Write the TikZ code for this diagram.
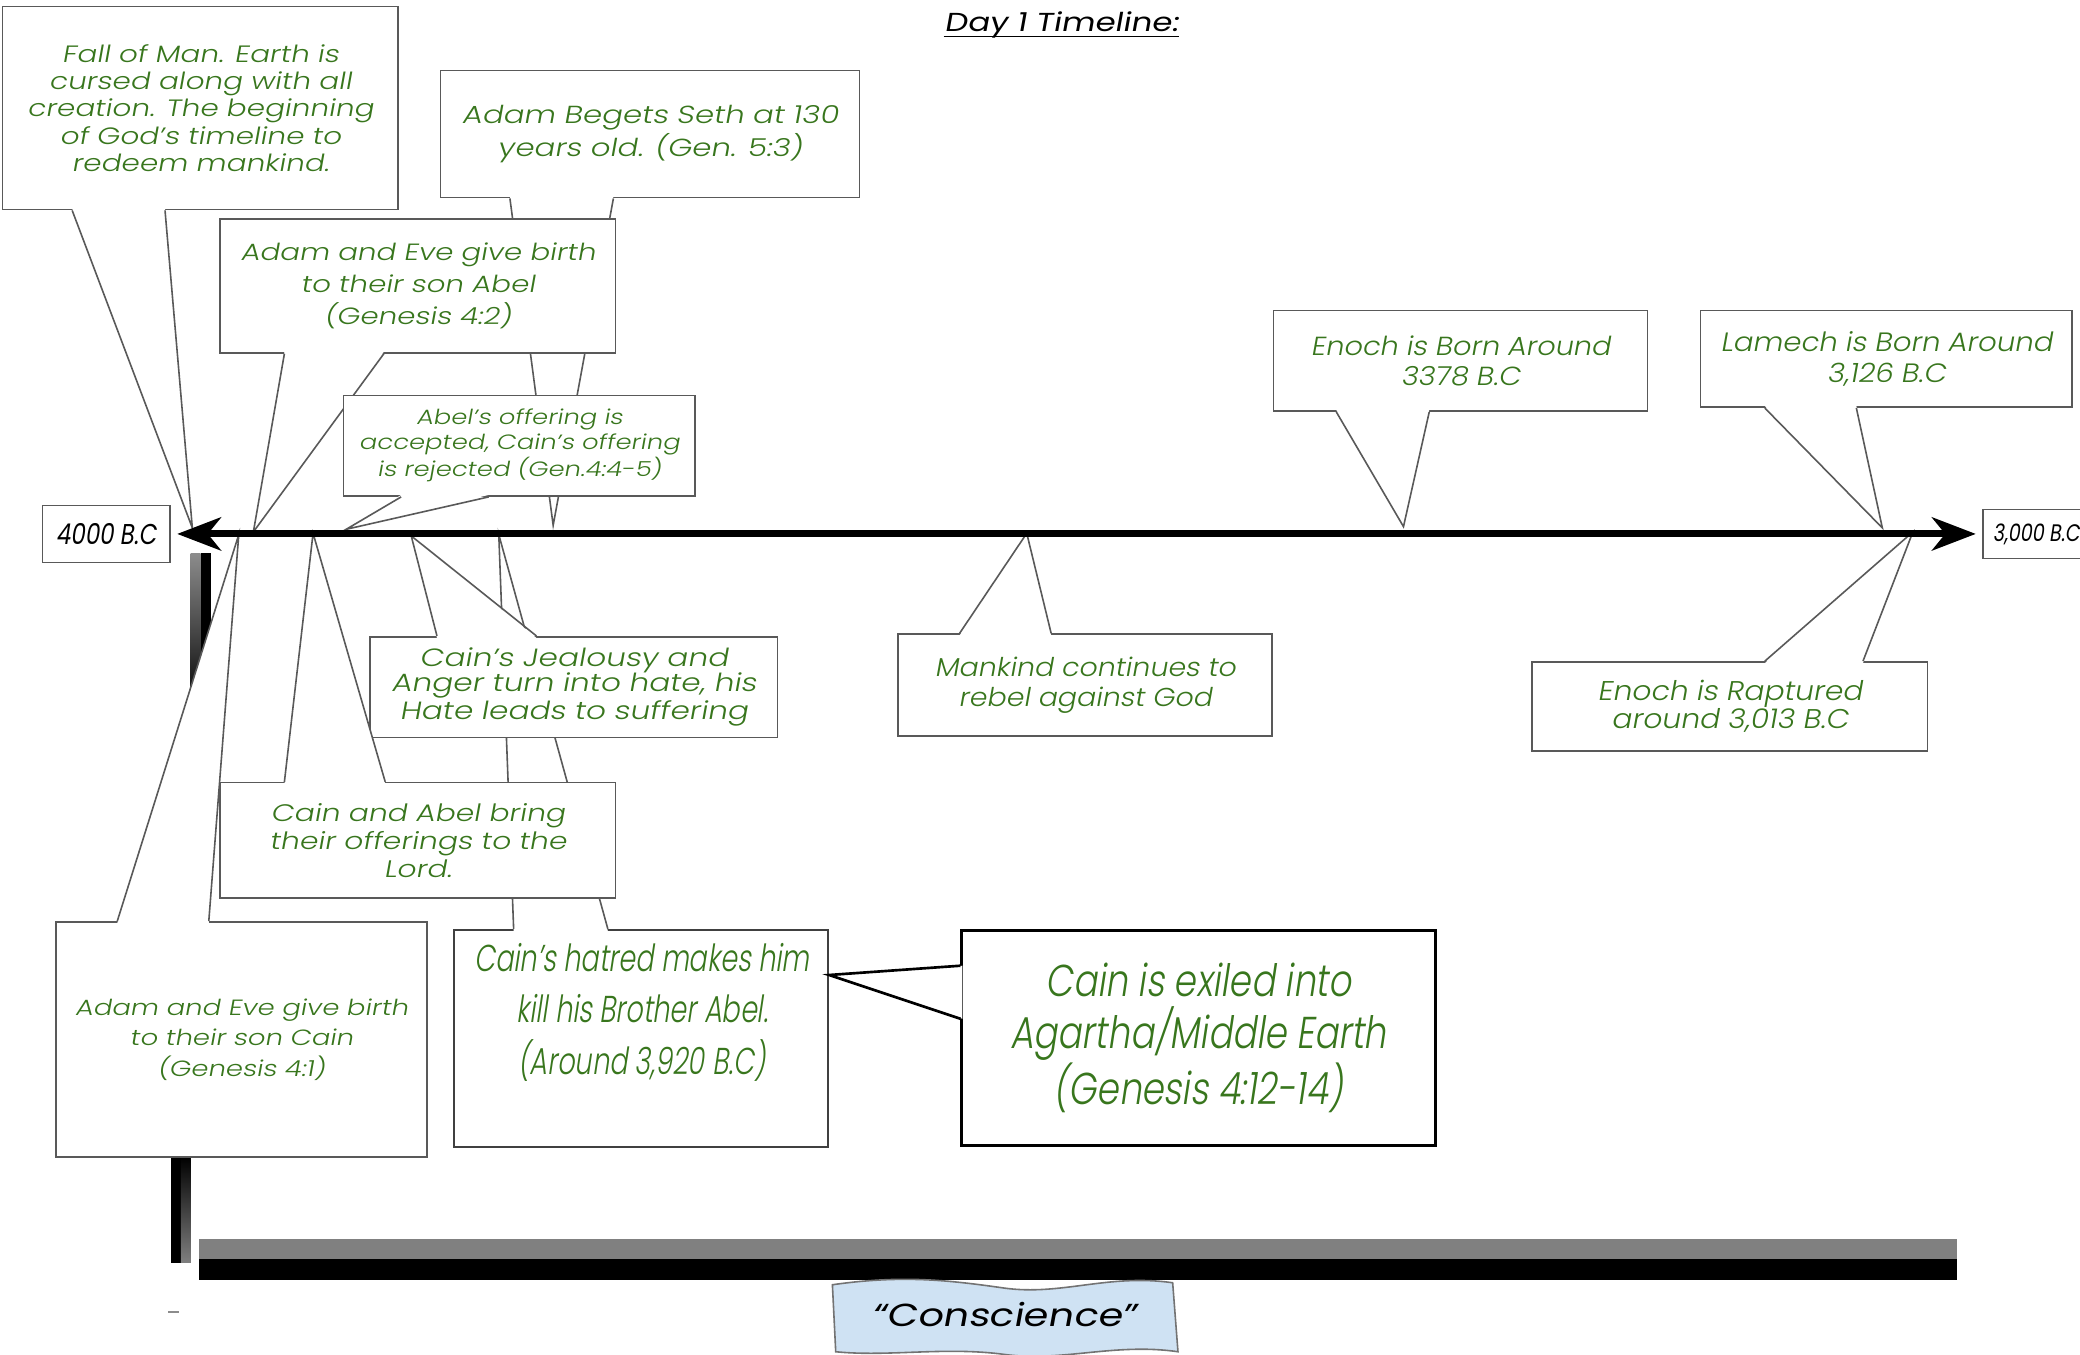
\documentclass[tikz,border=0pt]{standalone}
\usepackage{fontspec}
\usetikzlibrary{arrows.meta,calc}
\newcommand\mkfonts[1]{%
  \newfontfamily\wideF{#1}[FakeSlant=0.18,FakeStretch=1.25]%
  \newfontfamily\medF{#1}[FakeSlant=0.18,FakeStretch=1.1]%
  \newfontfamily\condP{#1}[FakeSlant=0.15,FakeStretch=0.725]%
  \newfontfamily\condQ{#1}[FakeSlant=0.15,FakeStretch=0.8]}
\IfFontExistsTF{Poppins Light}{\mkfonts{Poppins Light}}{\mkfonts{Poppins}}
\newfontfamily\titleF{Poppins}[FakeSlant=0.18,FakeStretch=1.25]
\newfontfamily\condF{Poppins}[FakeSlant=0.15,FakeStretch=0.8]
\definecolor{tgreen}{HTML}{38761D}
\definecolor{boxgray}{HTML}{595959}
\definecolor{cblue}{HTML}{CFE2F3}
\tikzset{
  box/.style={draw=boxgray, line width=0.6pt, fill=white, inner sep=0pt, align=center, text=tgreen},
  lbl/.style={draw=boxgray, line width=0.6pt, fill=white, inner sep=0pt, align=center, text=black},
  ptr/.style={draw=boxgray, line width=0.6pt, line join=miter},
  qptr/.style={draw=black, line width=1pt, line join=miter},
  axis/.style={line width=2.6pt, {Stealth[length=16.5pt,width=12.5pt,inset=5pt]}-{Stealth[length=16.5pt,width=12.5pt,inset=5pt]}},
}
\newcommand\pointer[5][ptr]{%
  \fill[white] ($(#2)+#5$) -- (#4) -- ($(#3)+#5$) -- cycle;
  \draw[#1] (#2) -- (#4) -- (#3);}
\begin{document}
\begin{tikzpicture}[x=0.5pt,y=-0.5pt]
\useasboundingbox (0,0) rectangle (1568,1021);
\fill[white] (0,0) rectangle (1568,1021);

% bars
\shade[top color=black!45, bottom color=black] (143.7,417) rectangle (151.3,535);
\fill[black] (151.3,417) rectangle (159,535);
\fill[black] (128.7,872) rectangle (136.3,952);
\shade[top color=black, bottom color=black!50] (136.3,872) rectangle (143.8,952);
\fill[black!50] (150,934) rectangle (1475,949);
\fill[black] (150,949) rectangle (1475,965);
\draw[black!45, line width=1pt] (127,989) -- (135,989);

% Conscience banner
\draw[draw=black!55, fill=cblue, line width=0.6pt] (627.5,968.5) .. controls (680,961) and (715,965) .. (757,971) .. controls (800,977) and (835,960) .. (884,967) -- (888,1019) .. controls (840,1012) and (800,1027) .. (757,1021) .. controls (712,1015) and (670,1023) .. (630,1019) -- cycle;
\node[inner sep=0pt, text=black, font=\titleF\fontsize{12}{14}\selectfont] (CS) at (757,991) {“Conscience”};

% Seth
\node[box, minimum width=158pt, minimum height=48pt, font=\wideF\fontsize{9.3}{11}\selectfont] (B) at (490,101) {Adam Begets Seth at 130\\years old. (Gen. 5:3)};
\coordinate (B1) at ($(B.south west)+(53,0)$);
\coordinate (B2) at ($(B.south west)+(131,0)$);
\coordinate (Bt) at (417,396);
\pointer{B1}{B2}{Bt}{(0,-1.5)}

% Fall of man
\node[box, minimum width=149pt, minimum height=76.5pt, font=\wideF\fontsize{8.9}{10.35}\selectfont] (A) at (151,81.5) {Fall of Man. Earth is\\cursed along with all\\creation. The beginning\\of God’s timeline to\\redeem mankind.};
\coordinate (A1) at ($(A.south west)+(53,0)$);
\coordinate (A2) at ($(A.south west)+(123,0)$);
\coordinate (At) at (145,398);
\pointer{A1}{A2}{At}{(0,-1.5)}

% Abel birth
\node[box, minimum width=149pt, minimum height=50.5pt, font=\wideF\fontsize{8.85}{12}\selectfont] (C) at (315,215.5) {Adam and Eve give birth\\to their son Abel\\(Genesis 4:2)};
\coordinate (C1) at ($(C.south west)+(49,0)$);
\coordinate (C2) at ($(C.south west)+(124,0)$);
\coordinate (Ct) at (191,401);
\pointer{C1}{C2}{Ct}{(0,-1.5)}

% Offerings accepted
\node[box, minimum width=132.5pt, minimum height=38pt, font=\wideF\fontsize{7.8}{9.25}\selectfont] (D) at (391.5,336) {Abel’s offering is\\accepted, Cain’s offering\\is rejected (Gen.4:4-5)};
\coordinate (D1) at ($(D.south west)+(44,0)$);
\coordinate (D2) at ($(D.south west)+(110,0)$);
\coordinate (Dt) at (261,399);
\pointer{D1}{D2}{Dt}{(0,-1.5)}

% Cain birth
\node[box, minimum width=140pt, minimum height=88.5pt, font=\wideF\fontsize{8.3}{11.5}\selectfont] (R) at (182,783.5) {Adam and Eve give birth\\to their son Cain\\(Genesis 4:1)};
\coordinate (R1) at ($(R.north west)+(47,0)$);
\coordinate (R2) at ($(R.north west)+(116,0)$);
\coordinate (Rt) at (180,403);
\pointer{R1}{R2}{Rt}{(0,1.5)}

% Cain kills Abel
\node[box, draw=black!75, line width=0.8pt, minimum width=141pt, minimum height=81.75pt] (P) at (483,782.75) {};
\node[inner sep=0pt, align=center, text=tgreen, font=\condP\fontsize{14.1}{19.5}\selectfont] (Ptxt) at (484,763) {Cain’s hatred makes him\\kill his Brother Abel.\\(Around 3,920 B.C)};
\coordinate (P1) at ($(P.north west)+(46,0)$);
\coordinate (P2) at ($(P.north west)+(117,0)$);
\coordinate (Pt) at (376,403);
\pointer{P1}{P2}{Pt}{(0,1.5)}

% Jealousy
\node[box, minimum width=153.5pt, minimum height=38pt, font=\wideF\fontsize{9.4}{9.5}\selectfont] (N) at (432.5,518) {Cain’s Jealousy and\\Anger turn into hate, his\\Hate leads to suffering};
\coordinate (N1) at ($(N.north west)+(51,0)$);
\coordinate (N2) at ($(N.north west)+(126,0)$);
\coordinate (Nt) at (310,404);
\pointer{N1}{N2}{Nt}{(0,1.5)}

% Offerings brought
\node[box, minimum width=149pt, minimum height=43.5pt, font=\wideF\fontsize{9}{10.5}\selectfont] (O) at (315,633.5) {Cain and Abel bring\\their offerings to the\\Lord.};
\coordinate (O1) at ($(O.north west)+(49,0)$);
\coordinate (O2) at ($(O.north west)+(125,0)$);
\coordinate (Ot) at (236,402);
\pointer{O1}{O2}{Ot}{(0,1.5)}

% Mankind
\node[box, minimum width=141pt, minimum height=38.5pt, font=\medF\fontsize{9.75}{11.5}\selectfont] (J) at (818,516.5) {Mankind continues to\\rebel against God};
\coordinate (J1) at ($(J.north west)+(47,0)$);
\coordinate (J2) at ($(J.north west)+(116,0)$);
\coordinate (Jt) at (774,402);
\pointer{J1}{J2}{Jt}{(0,1.5)}

% Enoch born
\node[box, minimum width=141pt, minimum height=38pt, font=\medF\fontsize{9.86}{11.5}\selectfont] (K) at (1101,272) {Enoch is Born Around\\3378 B.C};
\coordinate (K1) at ($(K.south west)+(48,0)$);
\coordinate (K2) at ($(K.south west)+(118,0)$);
\coordinate (Kt) at (1058,397);
\pointer{K1}{K2}{Kt}{(0,-1.5)}

% Lamech
\node[box, minimum width=140pt, minimum height=36.5pt, font=\medF\fontsize{10}{11.5}\selectfont] (L) at (1422,270.5) {Lamech is Born Around\\3,126 B.C};
\coordinate (L1) at ($(L.south west)+(49,0)$);
\coordinate (L2) at ($(L.south west)+(118,0)$);
\coordinate (Lt) at (1419,398);
\pointer{L1}{L2}{Lt}{(0,-1.5)}

% Enoch raptured
\node[box, minimum width=149pt, minimum height=33.5pt, font=\medF\fontsize{10.2}{10.5}\selectfont] (M) at (1304,532.5) {Enoch is Raptured\\around 3,013 B.C};
\coordinate (M1) at ($(M.north west)+(176,0)$);
\coordinate (M2) at ($(M.north west)+(250,0)$);
\coordinate (Mt) at (1442,401);
\pointer{M1}{M2}{Mt}{(0,1.5)}

% Exile
\node[box, draw=black, line width=1pt, minimum width=178.5pt, minimum height=81pt, font=\condQ\fontsize{16.8}{19.25}\selectfont] (Q) at (903.5,782.5) {Cain is exiled into\\Agartha/Middle Earth\\(Genesis 4:12-14)};
\coordinate (Q1) at ($(Q.north west)+(0,27.5)$);
\coordinate (Q2) at ($(Q.north west)+(0,67.5)$);
\coordinate (Qt) at (625,735);
\pointer[qptr]{Q1}{Q2}{Qt}{(1.5,0)}

% end labels
\node[lbl, minimum width=48pt, minimum height=21.5pt, font=\condF\fontsize{10.8}{13}\selectfont] (E) at (80,402.5) {4000 B.C};
\node[lbl, minimum width=40pt, minimum height=18.5pt, font=\condF\fontsize{9}{11}\selectfont] (G) at (1535,402.5) {3,000 B.C};

% axis
\draw[axis] ($(E.east)+(5,0)$) -- ($(G.west)+(-5,0)$);

% title
\node[inner sep=0pt, anchor=base, text=black, font=\titleF\fontsize{9.8}{12}\selectfont] (T) at (800,24) {Day 1 Timeline:};
\draw[line width=0.7pt] ($(T.base west)+(0,3.5)$) -- ($(T.base east)+(0,3.5)$);
\end{tikzpicture}
\end{document}
